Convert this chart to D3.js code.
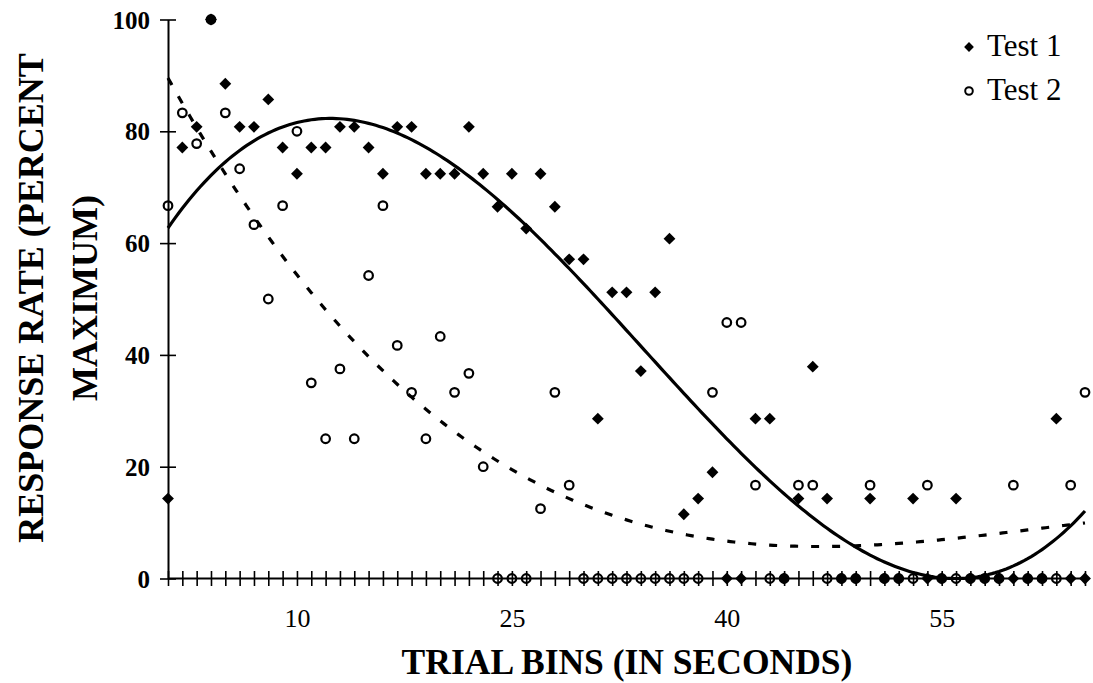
<!DOCTYPE html>
<html>
<head>
<meta charset="utf-8">
<script src="https://cdn.jsdelivr.net/npm/d3@7"></script>
<style>
  html, body { margin: 0; padding: 0; background: #fff; }
  svg { display: block; }
  text { font-family: "Liberation Serif", "Times New Roman", serif; fill: #000; }
</style>
</head>
<body>
<svg id="chart" width="1093" height="683"></svg>
<script>
// ---------- data ----------
const bins = [1,2,3,4,5,6,7,8,9,10,11,12,13,14,15,16,17,18,19,20,21,22,23,24,25,26,27,28,29,30,
  31,32,33,34,35,36,37,38,39,40,41,42,43,44,45,46,47,48,49,50,51,52,53,54,55,56,57,58,59,60,
  61,62,63,64,65];
const test1 = [14.3,77.1,80.8,100,88.5,80.8,80.8,85.7,77.1,72.4,77.1,77.1,80.8,80.8,77.1,72.4,80.8,80.8,72.4,72.4,
  72.4,80.8,72.4,66.5,72.4,62.6,72.4,66.5,57.1,57.1,28.6,51.2,51.2,37.1,51.2,60.8,11.5,14.3,19.0,0,
  0,28.6,28.6,0,14.3,37.9,14.3,0,0,14.3,0,0,14.3,0,0,14.3,0,0,0,0,
  0,0,28.6,0,0];
const test2 = [66.7,83.3,77.8,100,83.3,73.3,63.3,50.0,66.7,80.0,35.0,25.0,37.5,25.0,54.2,66.7,41.7,33.3,25.0,43.3,
  33.3,36.7,20.0,0,0,0,12.5,33.3,16.7,0,0,0,0,0,0,0,0,0,33.3,45.8,
  45.8,16.7,0,0,16.7,16.7,0,0,0,16.7,0,0,0,16.7,0,0,0,0,0,16.7,
  0,0,0,16.7,33.3];
const yTicks = [0,20,40,60,80,100];
const xLabels = [10,25,40,55];
const seriesNames = ["Test 1","Test 2"];

// ---------- helpers ----------
function polyfit(xs, ys, order) {
  const n = order + 1, c0 = 33, s = 32;
  const A = Array.from({length: n}, () => new Array(n + 1).fill(0));
  xs.forEach((xv, k) => {
    const t = (xv - c0) / s;
    for (let i = 0; i < n; i++) {
      for (let j = 0; j < n; j++) A[i][j] += Math.pow(t, i + j);
      A[i][n] += Math.pow(t, i) * ys[k];
    }
  });
  for (let i = 0; i < n; i++) {
    let p = i;
    for (let r = i + 1; r < n; r++) if (Math.abs(A[r][i]) > Math.abs(A[p][i])) p = r;
    [A[i], A[p]] = [A[p], A[i]];
    for (let r = 0; r < n; r++) {
      if (r === i) continue;
      const f = A[r][i] / A[i][i];
      for (let c = i; c <= n; c++) A[r][c] -= f * A[i][c];
    }
  }
  const coef = A.map((row, i) => row[n] / row[i]);
  return xv => { const t = (xv - c0) / s; return coef.reduce((acc, c, i) => acc + c * Math.pow(t, i), 0); };
}

// ---------- layout ----------
const svg = d3.select("#chart");
const x = d3.scaleLinear().domain([1, 65]).range([168, 1085]);
const y = d3.scaleLinear().domain([0, 100]).range([578.5, 19.5]);

// y axis
const gy = svg.append("g").attr("transform", `translate(${x(1)},0)`)
  .call(d3.axisLeft(y).tickValues(yTicks).tickSizeInner(8).tickSizeOuter(0).tickPadding(10));
gy.select(".domain").attr("stroke", "#000").attr("stroke-width", 2);
gy.selectAll(".tick line").attr("x1", -8).attr("x2", 8).attr("stroke", "#000").attr("stroke-width", 1.6);
gy.selectAll(".tick text").attr("font-family", '"Liberation Serif", serif').attr("font-weight", "bold")
  .attr("font-size", 25).attr("fill", "#000").attr("x", -18).attr("dy", "0.34em");

// x axis
const gx = svg.append("g").attr("transform", `translate(0,${y(0)})`)
  .call(d3.axisBottom(x).tickValues(bins).tickSizeInner(8).tickSizeOuter(0).tickFormat(""));
gx.select(".domain").attr("stroke", "#000").attr("stroke-width", 2)
  .attr("d", `M${x(1)},0H${x(65) + 3}`);
gx.selectAll(".tick line").attr("y1", -7.5).attr("y2", 7.5).attr("stroke", "#000").attr("stroke-width", 1.6);

const gxl = svg.append("g").attr("transform", `translate(0,${y(0)})`)
  .call(d3.axisBottom(x).tickValues(xLabels).tickSize(0).tickPadding(0));
gxl.select(".domain").remove();
gxl.selectAll(".tick text").attr("font-family", '"Liberation Serif", serif')
  .attr("font-size", 26).attr("fill", "#000").attr("y", 48).attr("dy", 0);

// trendlines (cubic least-squares fits of each series)
const f1 = polyfit(bins, test1, 3);
const f2 = polyfit(bins, test2, 3);
const xs = d3.range(1, 65.001, 0.25);
const line = fn => d3.line().x(d => x(d)).y(d => y(fn(d)))(xs);
svg.append("path").attr("d", line(f1)).attr("fill", "none").attr("stroke", "#000").attr("stroke-width", 3.2);
svg.append("path").attr("d", line(f2)).attr("fill", "none").attr("stroke", "#000").attr("stroke-width", 3.2)
  .attr("stroke-dasharray", "8,13");

// markers
svg.append("g").selectAll("path").data(bins).join("path")
  .attr("d", d3.symbol().type(d3.symbolSquare).size(70))
  .attr("transform", (d, i) => `translate(${x(d)},${y(test1[i])}) rotate(45)`)
  .attr("fill", "#000");
svg.append("g").selectAll("circle").data(bins).join("circle")
  .attr("cx", d => x(d)).attr("cy", (d, i) => y(test2[i])).attr("r", 4.3)
  .attr("fill", "none").attr("stroke", "#000").attr("stroke-width", 2.2);

// legend
const lg = svg.append("g");
lg.append("path").attr("d", d3.symbol().type(d3.symbolSquare).size(48))
  .attr("transform", "translate(969,47) rotate(45)").attr("fill", "#000");
lg.append("circle").attr("cx", 969).attr("cy", 91).attr("r", 3.8)
  .attr("fill", "none").attr("stroke", "#000").attr("stroke-width", 2);
lg.append("text").attr("x", 987).attr("y", 56).attr("font-size", 31).text(seriesNames[0]);
lg.append("text").attr("x", 987).attr("y", 100).attr("font-size", 31).text(seriesNames[1]);

// axis titles
svg.append("text").attr("x", 627).attr("y", 674).attr("text-anchor", "middle")
  .attr("font-weight", "bold").attr("font-size", 35.5).text("TRIAL BINS (IN SECONDS)");
const yt = svg.append("g").attr("transform", "translate(0,298)");
yt.append("text").attr("transform", "translate(43,0) rotate(-90)").attr("text-anchor", "middle")
  .attr("font-weight", "bold").attr("font-size", 36).text("RESPONSE RATE (PERCENT");
yt.append("text").attr("transform", "translate(97,0) rotate(-90)").attr("text-anchor", "middle")
  .attr("font-weight", "bold").attr("font-size", 36).text("MAXIMUM)");
</script>
</body>
</html>
